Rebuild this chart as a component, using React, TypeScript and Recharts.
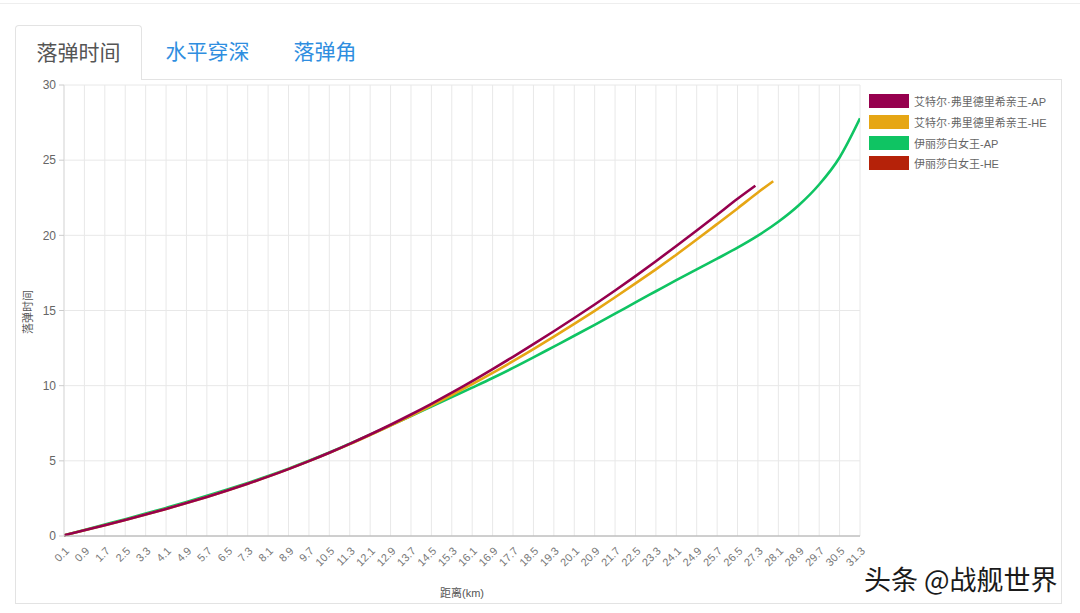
import { LineChart, Line, XAxis, YAxis, CartesianGrid } from "recharts";

// distance ticks (km) shared by all series
const distanceKm = [
  0.1, 0.9, 1.7, 2.5, 3.3, 4.1, 4.9, 5.7, 6.5, 7.3, 8.1, 8.9, 9.7, 10.5, 11.3,
  12.1, 12.9, 13.7, 14.5, 15.3, 16.1, 16.9, 17.7, 18.5, 19.3, 20.1, 20.9, 21.7,
  22.5, 23.3, 24.1, 24.9, 25.7, 26.5, 27.3, 28.1, 28.9, 29.7, 30.5, 31.3,
];

const timeTicks = [0, 5, 10, 15, 20, 25, 30];

// 落弹时间 (s) at each distance tick, plus the last point of each curve
const fredApTime = [
  0.05, 0.38, 0.72, 1.07, 1.43, 1.8, 2.19, 2.6, 3.03, 3.48, 3.95, 4.45, 4.98,
  5.54, 6.13, 6.75, 7.4, 8.08, 8.79, 9.53, 10.3, 11.1, 11.92, 12.76, 13.62,
  14.5, 15.4, 16.33, 17.29, 18.28, 19.29, 20.32, 21.37, 22.43,
];
const fredApEnd = [27.2, 23.3];

const fredHeTime = [
  0.05, 0.38, 0.72, 1.07, 1.43, 1.8, 2.19, 2.6, 3.03, 3.48, 3.95, 4.45, 4.98,
  5.53, 6.11, 6.72, 7.35, 8.0, 8.68, 9.38, 10.1, 10.85, 11.63, 12.43, 13.26,
  14.11, 14.98, 15.88, 16.8, 17.74, 18.71, 19.72, 20.75, 21.79, 22.85,
];
const fredHeEnd = [27.9, 23.6];

const qeApTime = [
  0.05, 0.4, 0.76, 1.12, 1.49, 1.87, 2.26, 2.67, 3.09, 3.53, 3.99, 4.48, 5.0,
  5.55, 6.14, 6.74, 7.36, 7.98, 8.61, 9.24, 9.87, 10.51, 11.18, 11.88, 12.6,
  13.32, 14.05, 14.79, 15.54, 16.28, 17.02, 17.74, 18.45, 19.18, 19.98, 20.9,
  22.0, 23.38, 25.18, 27.78,
];

const qeHeTime: number[] = [];

const toPoints = (values: number[], end?: number[]) => {
  const pts = values.map((t, i) => ({ km: distanceKm[i], t }));
  if (end) pts.push({ km: end[0], t: end[1] });
  return pts;
};

const series = [
  { name: "艾特尔·弗里德里希亲王-AP", color: "#96004e", data: toPoints(fredApTime, fredApEnd) },
  { name: "艾特尔·弗里德里希亲王-HE", color: "#e6a614", data: toPoints(fredHeTime, fredHeEnd) },
  { name: "伊丽莎白女王-AP", color: "#0fc463", data: toPoints(qeApTime) },
  { name: "伊丽莎白女王-HE", color: "#b52209", data: toPoints(qeHeTime) },
];

// later series in this list are drawn on top
const drawOrder = [3, 2, 1, 0];

const FONT = '"Liberation Sans", "Noto Sans CJK SC", sans-serif';

function DistanceTick({ x, y, payload }: { x?: number; y?: number; payload?: { value: number } }) {
  return (
    <g transform={`translate(${(x ?? 0) + 3},${(y ?? 0) + 5}) rotate(-45)`}>
      <text textAnchor="end" dy="0.35em" fontSize={11} fill="#777" fontFamily={FONT}>
        {payload?.value}
      </text>
    </g>
  );
}

export default function App() {
  return (
    <div
      style={{
        position: "relative",
        width: 1080,
        height: 613,
        background: "#fff",
        fontFamily: FONT,
        overflow: "hidden",
      }}
    >
      <style>{`body{margin:0}`}</style>
      <div style={{ position: "absolute", left: 0, right: 0, top: 3, borderTop: "1px solid #eee" }} />

      {/* panel + tabs */}
      <div
        style={{
          position: "absolute",
          left: 15,
          top: 79,
          width: 1047,
          height: 525,
          border: "1px solid #e3e3e3",
          boxSizing: "border-box",
        }}
      />
      <div
        style={{
          position: "absolute",
          left: 15,
          top: 25,
          width: 127,
          height: 55,
          border: "1px solid #e3e3e3",
          borderBottom: "none",
          borderRadius: "4px 4px 0 0",
          background: "#fff",
          boxSizing: "border-box",
          textAlign: "center",
          lineHeight: "54px",
          fontSize: 21,
          color: "#555",
        }}
      >
        落弹时间
      </div>
      <div style={{ position: "absolute", left: 160, top: 25, width: 95, lineHeight: "54px", fontSize: 21, color: "#2f8ee0", textAlign: "center" }}>
        水平穿深
      </div>
      <div style={{ position: "absolute", left: 280, top: 25, width: 90, lineHeight: "54px", fontSize: 21, color: "#2f8ee0", textAlign: "center" }}>
        落弹角
      </div>

      <div style={{ position: "absolute", left: 0, top: 0 }}>
        <LineChart width={1080} height={613} margin={{ top: 85, right: 220, bottom: 0, left: 34 }}>
          <CartesianGrid stroke="#e8e8e8" />
          <XAxis
            type="number"
            dataKey="km"
            domain={[0.1, 31.3]}
            ticks={distanceKm}
            interval={0}
            height={77}
            allowDataOverflow
            axisLine={{ stroke: "#aaa" }}
            tickLine={false}
            tick={<DistanceTick />}
          />
          <YAxis
            type="number"
            dataKey="t"
            domain={[0, 30]}
            ticks={timeTicks}
            width={30}
            tickSize={5}
            tickMargin={3}
            axisLine={{ stroke: "#ddd" }}
            tickLine={{ stroke: "#ccc" }}
            tick={{ fontSize: 12, fill: "#666", fontFamily: FONT }}
          />
          {drawOrder.map((i) => (
            <Line
              key={series[i].name}
              data={series[i].data}
              dataKey="t"
              name={series[i].name}
              type="monotone"
              stroke={series[i].color}
              strokeWidth={2.6}
              dot={false}
              activeDot={false}
              isAnimationActive={false}
            />
          ))}
        </LineChart>
      </div>

      {/* axis titles */}
      <div
        style={{
          position: "absolute",
          left: 27,
          top: 312,
          transform: "translate(-50%,-50%) rotate(-90deg)",
          fontSize: 11,
          color: "#555",
          whiteSpace: "nowrap",
        }}
      >
        落弹时间
      </div>
      <div
        style={{
          position: "absolute",
          left: 462,
          top: 592,
          transform: "translate(-50%,-50%)",
          fontSize: 11,
          color: "#555",
          whiteSpace: "nowrap",
        }}
      >
        距离(km)
      </div>

      {/* legend */}
      <div style={{ position: "absolute", left: 869, top: 91 }}>
        {series.map((s) => (
          <div key={s.name} style={{ display: "flex", alignItems: "center", height: 20.7 }}>
            <div style={{ width: 40, height: 14, background: s.color, marginRight: 5 }} />
            <span style={{ fontSize: 11, color: "#666", whiteSpace: "nowrap" }}>{s.name}</span>
          </div>
        ))}
      </div>

      {/* watermark */}
      <div
        style={{
          position: "absolute",
          left: 864,
          top: 561,
          fontSize: 27,
          lineHeight: "36px",
          color: "#1a1a1a",
          whiteSpace: "nowrap",
          fontFamily: '"Noto Sans CJK SC", sans-serif',
          textShadow: "1px 1px 0 #fff, -1px -1px 0 #fff, 1px -1px 0 #fff, -1px 1px 0 #fff",
        }}
      >
        头条 @战舰世界
      </div>
    </div>
  );
}
